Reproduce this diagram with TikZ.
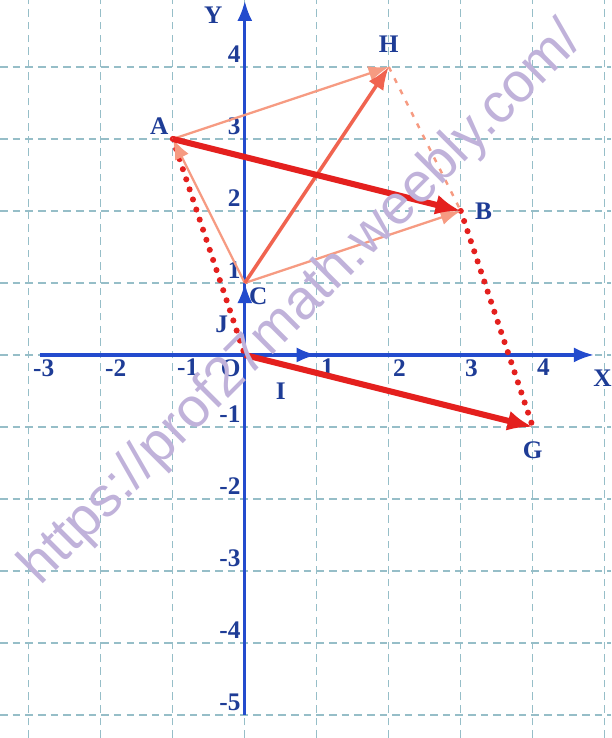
\documentclass[tikz,border=0pt]{standalone}
\usepackage{amsmath}
\usepackage{fontspec}
\setmainfont{Liberation Serif}
\newfontfamily\wmfont{Liberation Sans}
\usepackage{tikz}
\usetikzlibrary{arrows.meta}

\definecolor{gridcol}{RGB}{150,190,200}
\definecolor{axisblue}{RGB}{35,75,205}
\definecolor{labelblue}{RGB}{30,60,150}
\definecolor{vecred}{RGB}{228,32,30}
\definecolor{vecorange}{RGB}{240,100,80}
\definecolor{veclight}{RGB}{246,155,130}
\definecolor{wmark}{RGB}{192,178,218}

\begin{document}
\begin{tikzpicture}[x=1cm, y=1cm, font=\normalsize\bfseries,
    gridline/.style={gridcol, dash pattern=on 3pt off 2pt, line width=0.5pt},
    axis/.style={-{Latex[length=8pt,width=6pt]}, axisblue, line width=1.3pt},
    thickvec/.style={-{Latex[length=10pt,width=8pt]}, vecred, line width=2.4pt},
    midvec/.style={-{Latex[length=9pt,width=7pt]}, vecorange, line width=1.4pt},
    thinvec/.style={-{Latex[length=8pt,width=6pt]}, veclight, line width=0.9pt},
    dotline/.style={vecred, line width=2.4pt, line cap=round, dash pattern=on 0pt off 4.2pt},
    thindot/.style={veclight, line width=1pt, dash pattern=on 2pt off 3pt},
    lab/.style={labelblue, inner sep=1.5pt}]
    \useasboundingbox (-3.40,-5.32) rectangle (5.09,4.93);

    % grid
    \foreach \x in {-3,...,5}
        \draw[gridline] (\x,-5.32) -- (\x,4.93);
    \foreach \y in {-5,...,4}
        \draw[gridline] (-3.40,\y) -- (5.09,\y);

    % axes
    \coordinate (O) at (0,0);
    \coordinate (xs) at (-2.85,0);
    \coordinate (xe) at (4.85,0);
    \coordinate (ys) at (0,-5.0);
    \coordinate (ye) at (0,4.92);
    \draw[axis] (xs) -- (xe);
    \draw[axis] (ys) -- (ye);
    \node[lab, below right] (labX) at (4.78,-0.15) {X};
    \node[lab, left] (labY) at (-0.25,4.72) {Y};
    \node[lab, below left] (labO) at (O) {O};
    \foreach \x in {-3,-2,-1,1,2,3,4}
        \node[lab, below right] (xl\x) at (\x,0) {\x};
    \foreach \y in {-5,-4,-3,-2,-1,1,2,3,4}
        \node[lab, above left] (yl\y) at (0,\y) {\y};

    % unit vectors
    \coordinate (I) at (1,0);
    \coordinate (J) at (0,1);
    \draw[axis] (O) -- (I);
    \draw[axis] (O) -- (J);
    \node[lab] (labI) at (0.5,-0.5) {I};
    \node[lab] (labJ) at (-0.32,0.42) {J};

    % points
    \coordinate (A) at (-1,3);
    \coordinate (B) at (3,2);
    \coordinate (C) at (0,1);
    \coordinate (H) at (2,4);
    \coordinate (G) at (4,-1);
    \node[lab, above left] (labA) at (A) {A};
    \node[lab, above, yshift=4pt] (labH) at (H) {H};
    \node[lab, right, xshift=4pt] (labB) at (B) {B};
    \node[lab, below right] (labC) at (C) {C};
    \node[lab, below, yshift=-4pt] (labG) at (G) {G};

    % vectors
    \draw[dotline] (A) -- (O);
    \draw[dotline] (B) -- (G);
    \draw[thindot] (H) -- (B);
    \draw[thinvec] (C) -- (A);
    \draw[thinvec] (C) -- (B);
    \draw[thinvec] (A) -- (H);
    \draw[midvec] (C) -- (H);
    \draw[thickvec] (A) -- (B);
    \draw[thickvec] (O) -- (G);

    % watermark
    \node[wmark, rotate=45, font=\wmfont\fontsize{22}{26}\selectfont] (wm) at (0.8,0.7) {https://prof27math.weebly.com/};
\end{tikzpicture}
\end{document}
